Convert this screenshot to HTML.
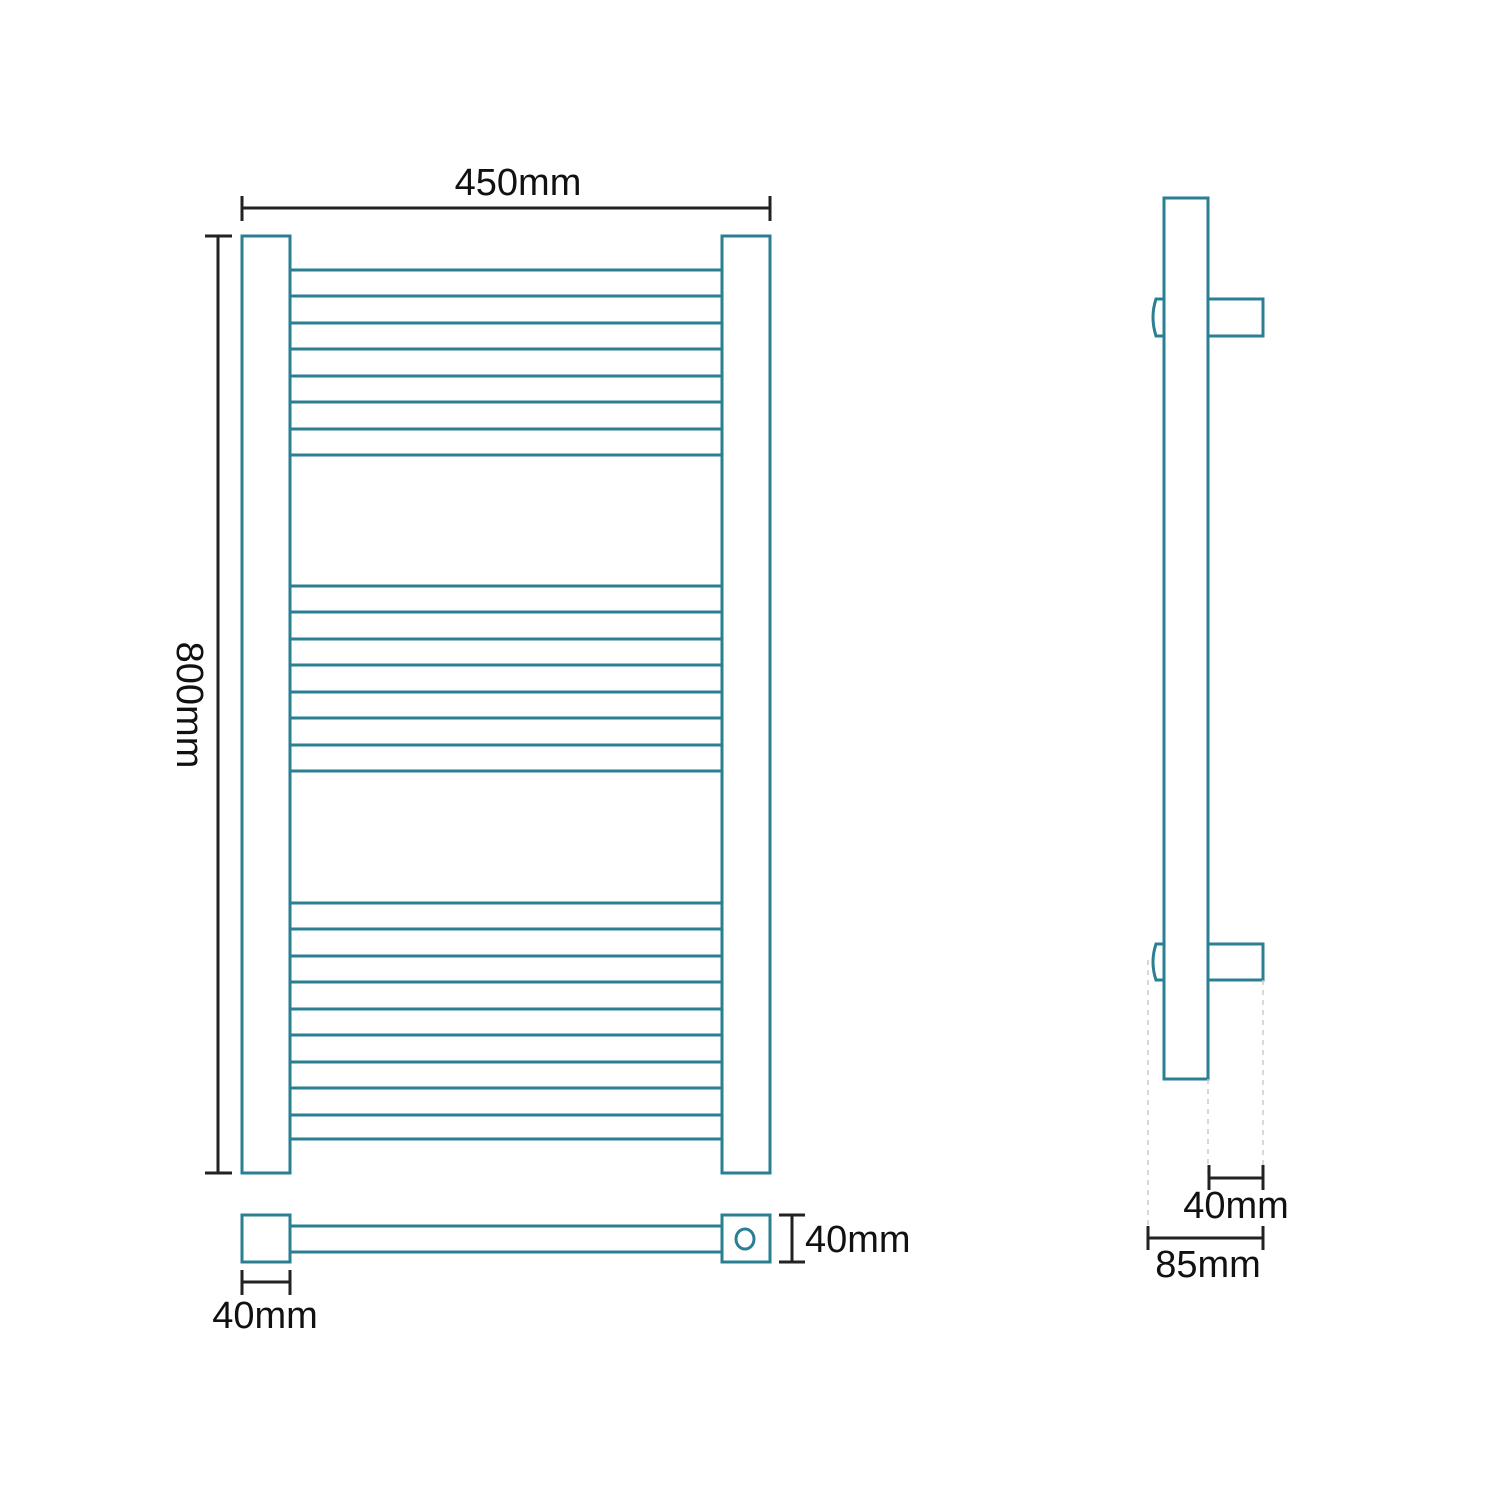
<!DOCTYPE html>
<html><head><style>body{margin:0;background:#fff}</style></head><body>
<svg width="1500" height="1500" xmlns="http://www.w3.org/2000/svg" font-family="Liberation Sans, sans-serif" font-size="38">
<rect width="1500" height="1500" fill="#fff"/>
<g stroke="#2a7f93" stroke-width="3" fill="none">
<rect x="242" y="236" width="48" height="937"/>
<rect x="722" y="236" width="48" height="937"/>
<path d="M290 270H722M290 296H722M290 323H722M290 349H722M290 376H722M290 402H722M290 429H722M290 455H722
M290 586H722M290 612H722M290 639H722M290 665H722M290 692H722M290 718H722M290 745H722M290 771H722
M290 903H722M290 929H722M290 956H722M290 982H722M290 1009H722M290 1035H722M290 1062H722M290 1088H722M290 1115H722M290 1139H722"/>
<rect x="242" y="1215" width="48" height="47"/>
<rect x="722" y="1215" width="48" height="47"/>
<path d="M290 1226H722M290 1252H722"/>
<ellipse cx="745" cy="1239" rx="9" ry="10"/>
<rect x="1164" y="198" width="44" height="881"/>
<rect x="1208" y="299" width="55" height="37"/>
<rect x="1208" y="944" width="55" height="36"/>
<path d="M1164 299H1156Q1150 317 1156 336H1164M1164 944H1156Q1150 962 1156 980H1164"/>
</g>
<g stroke="#ccc" stroke-width="1.5" stroke-dasharray="5,5">
<path d="M1148 960V1240M1208 1079V1180M1263 980V1180"/>
</g>
<g stroke="#222" stroke-width="3" fill="none">
<path d="M242 208H770M242 196V221M770 196V221"/>
<path d="M218 236V1173M205 236H232M205 1173H232"/>
<path d="M792 1215V1262M779 1215H805M779 1262H805"/>
<path d="M242 1282H290M242 1270V1295M290 1270V1295"/>
<path d="M1209 1178H1263M1209 1165V1190M1263 1165V1190"/>
<path d="M1148 1238H1263M1148 1226V1250M1263 1226V1250"/>
</g>
<g fill="#111">
<text x="518" y="195" text-anchor="middle">450mm</text>
<text transform="translate(177 705) rotate(90)" text-anchor="middle">800mm</text>
<text x="805" y="1252">40mm</text>
<text x="265" y="1328" text-anchor="middle">40mm</text>
<text x="1236" y="1218" text-anchor="middle">40mm</text>
<text x="1208" y="1277" text-anchor="middle">85mm</text>
</g>
</svg>
</body></html>
